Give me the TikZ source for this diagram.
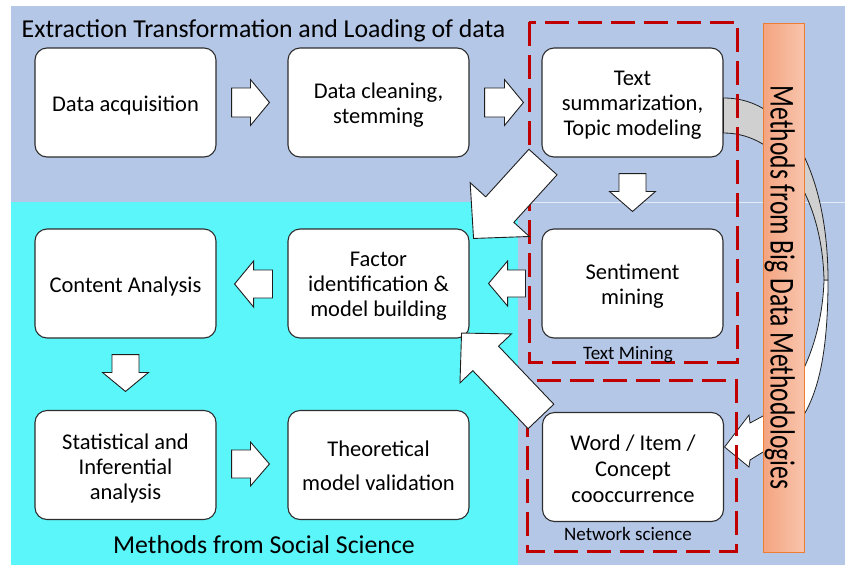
\documentclass[tikz,border=0pt]{standalone}
\usepackage{fontspec}
\setmainfont{Carlito}
\usetikzlibrary{calc}

\definecolor{etlblue}{RGB}{180,199,231}
\definecolor{socialcyan}{RGB}{90,246,249}
\definecolor{groupred}{RGB}{192,0,0}
\definecolor{barleft}{RGB}{244,164,128}
\definecolor{barright}{RGB}{248,196,172}
\definecolor{baredge}{RGB}{237,125,49}
\definecolor{bandgray}{RGB}{208,208,208}

% block arrow: [style] {tail} {tip} {half shaft width} {half head width} {head length}
\newcommand\flowarrow[6][]{%
  \coordinate (fa-base) at ($(#3)!#6!(#2)$);
  \draw[blockarrow,#1] ($(#2)!#4!90:(#3)$) -- ($(fa-base)!#4!90:(#3)$)
    -- ($(fa-base)!#5!90:(#3)$) -- (#3) -- ($(fa-base)!#5!-90:(#3)$)
    -- ($(fa-base)!#4!-90:(#3)$) -- ($(#2)!#4!-90:(#3)$) -- cycle;}

\begin{document}
\begin{tikzpicture}[x=1pt,y=-1pt,
  box/.style={draw=black!82, line width=1.1pt, fill=white, rounded corners=12pt,
    minimum width=181pt, minimum height=109pt, inner sep=0pt},
  boxtext/.style={align=center, inner sep=0pt, font=\fontsize{22.5}{25}\selectfont},
  blockarrow/.style={draw=black!88, line width=0.9pt, fill=white, line join=miter},
  curveband/.style={draw=black!88, line width=0.8pt, line join=miter},
  grouprect/.style={draw=groupred, line width=3pt, dash pattern=on 24pt off 9pt},
  biglabel/.style={font=\fontsize{25.8}{28}\selectfont, inner sep=0pt},
  smalllabel/.style={font=\fontsize{19}{22}\selectfont, inner sep=0pt}]

\useasboundingbox (0,0) rectangle (845,565);

% background panels
\fill[etlblue] (11,6) rectangle (845,565);
\fill[socialcyan] (11,202) rectangle (518,565);
\draw[white!65!etlblue, line width=1.2pt] (518,202.5) -- (845,202.5);

% process boxes
\node[box] (acq) at (125.5,102.5) {};
\node[box] (clean) at (378.5,102.5) {};
\node[box] (summ) at (632.5,102.5) {};
\node[box] (content) at (125.5,283.5) {};
\node[box] (factor) at (378.5,283.5) {};
\node[box] (senti) at (632.5,283.5) {};
\node[box] (stat) at (125.5,465) {};
\node[box] (theo) at (378.5,465) {};
\node[box] (word) at (633,467) {};

% box captions
\node[boxtext] (acq-t) at ($(acq)+(0,3)$) {Data acquisition};
\node[boxtext] (clean-t) at ($(clean)+(0,3)$) {Data cleaning,\\stemming};
\node[boxtext] (summ-t) at ($(summ)+(0,3)$) {Text\\summarization,\\Topic modeling};
\node[boxtext] (content-t) at ($(content)+(0,3)$) {Content Analysis};
\node[boxtext] (factor-t) at ($(factor)+(0,3)$) {Factor\\identification \&\\model building};
\node[boxtext] (senti-t) at ($(senti)+(0,3)$) {Sentiment\\mining};
\node[boxtext] (stat-t) at ($(stat)+(0,3)$) {Statistical and\\Inferential\\analysis};
\node[boxtext] (theo-t) at ($(theo)+(0,0.5)$) {Theoretical\\[9pt]model validation};
\node[boxtext] (word-t) at ($(word)+(0,1.5)$) {Word / Item /\\[1pt]Concept\\[1pt]cooccurrence};

% curved arrow from the topic model box round to the co-occurrence box
\coordinate (cvA) at ($(summ.east)+(0,-4.5)$);
\coordinate (cvB) at ($(summ.east)+(0,30.5)$);
\coordinate (cvT) at ($(word.east)+(0.5,-20)$);
\draw[curveband, fill=white] (828,280) .. controls (828,380) and (810,430) .. (763,452)
  -- (750,460) -- (749,467) -- (cvT) -- (749,415) -- (750,423) -- (763,416)
  .. controls (795,400) and (822,345) .. (824,280) -- cycle;
\draw[curveband, fill=bandgray] (cvA) .. controls (795,98) and (828,185) .. (828,280)
  -- (824,280) .. controls (822,195) and (780,133) .. (cvB) -- cycle;

% big data methodologies bar
\shade[left color=barleft, right color=barright, draw=baredge, line width=0.8pt]
  (763,23) rectangle (804,552);
\node[rotate=-90, anchor=base, inner sep=0pt] (bigdata) at (770.5,287.5)
  {\scalebox{0.73}[1]{\fontsize{35}{35}\selectfont Methods from Big Data Methodologies}};

% dashed groups
\draw[grouprect] (529,22) rectangle (737,362);
\draw[grouprect] (527,380) rectangle (736,551);

% labels
\node[biglabel, anchor=base west] (etl) at (21.5,37) {Extraction Transformation and Loading of data};
\node[biglabel, anchor=base] (social) at (264,553) {Methods from Social Science};
\node[smalllabel, anchor=base] (textmining) at (628,359) {Text Mining};
\node[smalllabel, anchor=base] (netsci) at (628,540) {Network science};

% block arrows between the boxes
\coordinate (a1s) at ($(acq.east)+(15,0)$);
\coordinate (a1t) at ($(clean.west)+(-18,0)$);
\flowarrow{a1s}{a1t}{14.5pt}{23pt}{19pt}
\coordinate (a2s) at ($(clean.east)+(15,0)$);
\coordinate (a2t) at ($(summ.west)+(-18,0)$);
\flowarrow{a2s}{a2t}{14.5pt}{23pt}{19pt}
\coordinate (a3s) at ($(summ.south)+(0,16)$);
\coordinate (a3t) at ($(senti.north)+(0,-17)$);
\flowarrow{a3s}{a3t}{13.5pt}{23pt}{20pt}
\coordinate (a4s) at ($(senti.west)+(-16,0)$);
\coordinate (a4t) at ($(factor.east)+(19,0)$);
\flowarrow{a4s}{a4t}{13.5pt}{22.5pt}{19pt}
\coordinate (a5s) at ($(factor.west)+(-15,0.5)$);
\coordinate (a5t) at ($(content.east)+(18,0.5)$);
\flowarrow{a5s}{a5t}{14pt}{23pt}{19pt}
\coordinate (a6s) at ($(content.south)+(0,16)$);
\coordinate (a6t) at ($(stat.north)+(0,-18.5)$);
\flowarrow{a6s}{a6t}{13.5pt}{23pt}{19pt}
\coordinate (a7s) at ($(stat.east)+(15,-1)$);
\coordinate (a7t) at ($(theo.west)+(-18,-1)$);
\flowarrow{a7s}{a7t}{14pt}{22pt}{19pt}

% diagonal arrows into the factor box
\coordinate (d1s) at ($(summ.south west)+(1.5,4.5)$);
\coordinate (d1t) at ($(factor.north east)+(4,10)$);
\flowarrow{d1s}{d1t}{19pt}{40pt}{39pt}
\coordinate (d2s) at ($(word.north west)+(-1,4.5)$);
\coordinate (d2t) at ($(factor.south east)+(-8,-5.5)$);
\flowarrow{d2s}{d2t}{17.75pt}{35.5pt}{35pt}

\end{tikzpicture}
\end{document}
